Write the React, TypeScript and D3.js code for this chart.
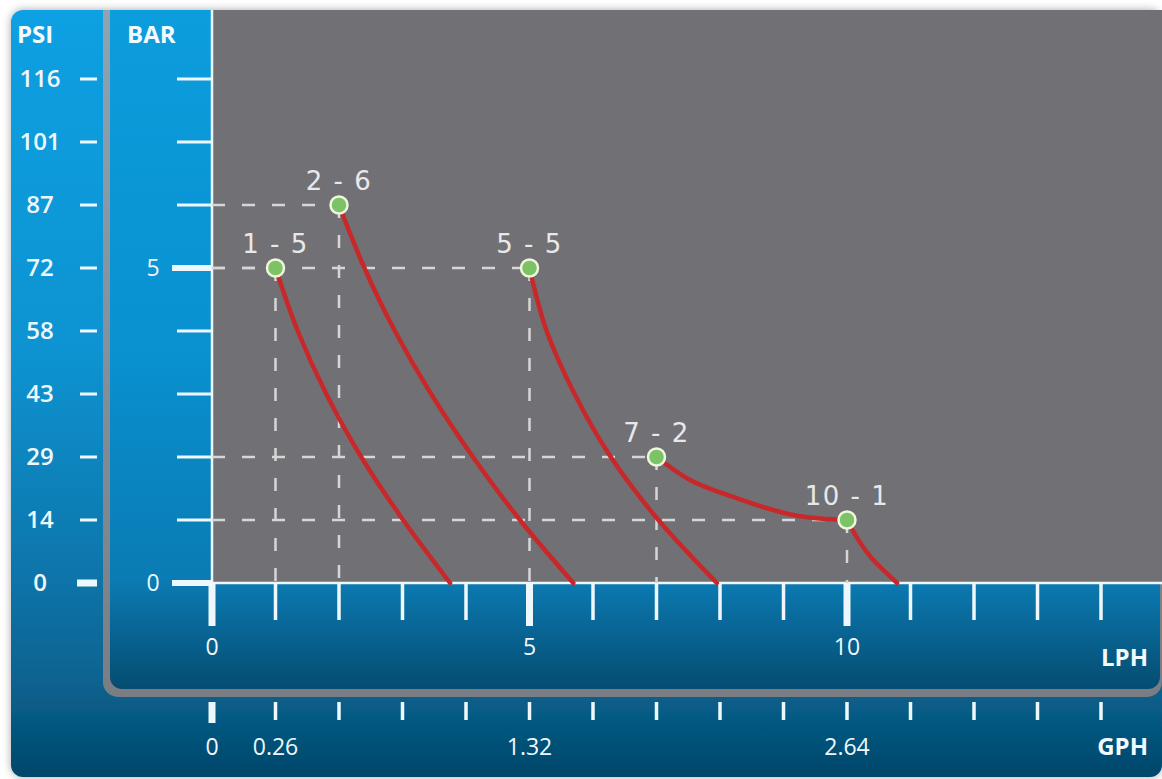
import React from 'react';
import * as d3 from 'd3';

// ---------- data ----------
const lphTicks = [0, 1, 2, 3, 4, 5, 6, 7, 8, 9, 10, 11, 12, 13, 14];
const lphMajor = [0, 5, 10];
const gphLabels = [
  { lph: 0, text: '0' },
  { lph: 1, text: '0.26' },
  { lph: 5, text: '1.32' },
  { lph: 10, text: '2.64' },
];
const barTicks = [0, 1, 2, 3, 4, 5, 6, 7, 8];
const barMajor = [0, 5];
const psiLabels = ['0', '14', '29', '43', '58', '72', '87', '101', '116'];

const operatingPoints = [
  { lph: 1, bar: 5, label: '1 - 5' },
  { lph: 2, bar: 6, label: '2 - 6' },
  { lph: 5, bar: 5, label: '5 - 5' },
  { lph: 7, bar: 2, label: '7 - 2' },
  { lph: 10, bar: 1, label: '10 - 1' },
];

// pump curves: [lph, bar]
const curve1: [number, number][] = [[1, 5], [1.35, 4], [1.8, 3], [2.35, 2], [3.01, 1], [3.75, 0]];
const curve2: [number, number][] = [[2, 6], [2.4, 5], [2.88, 4], [3.45, 3], [4.11, 2], [4.85, 1], [5.69, 0]];
const curve3: [number, number][] = [[5, 5], [5.27, 4], [5.71, 3], [6.28, 2], [7.03, 1], [7.95, 0]];
const curve4a: [number, number][] = [[7, 2], [7.5, 1.65], [8.2, 1.37], [9.26, 1.06], [10, 1]];
const curve4b: [number, number][] = [[10, 1], [10.4, 0.38], [10.79, 0]];
const steepCurves = [curve1, curve2, curve3, curve4b];
const flatCurves = [curve4a];

export default function App() {
  const W = 1162;
  const H = 779;
  const plotLeft = 212;
  const plotTop = 10;
  const plotRight = 1162;

  const x = d3.scaleLinear().domain([0, 14]).range([212, 1101]);
  const y = d3.scaleLinear().domain([0, 8]).range([583, 79]);
  const axisY = y(0);

  const lineY = d3
    .line<[number, number]>()
    .x((d) => x(d[0]))
    .y((d) => y(d[1]))
    .curve(d3.curveMonotoneY);
  const lineX = d3
    .line<[number, number]>()
    .x((d) => x(d[0]))
    .y((d) => y(d[1]))
    .curve(d3.curveMonotoneX);

  const tickColor = '#eef8fc';
  const font = '"Open Sans", "DejaVu Sans", sans-serif';

  return (
    <svg
      width={W}
      height={H}
      style={{ position: 'absolute', left: 0, top: 0, display: 'block' }}
    >
      <defs>
        <linearGradient id="outerGrad" gradientUnits="userSpaceOnUse" x1="0" y1="10" x2="0" y2="777">
          <stop offset="0" stopColor="#0ea0e2" />
          <stop offset="0.45" stopColor="#0993d1" />
          <stop offset="0.72" stopColor="#0a77ad" />
          <stop offset="0.88" stopColor="#08628f" />
          <stop offset="1" stopColor="#04476a" />
        </linearGradient>
        <linearGradient id="innerGrad" gradientUnits="userSpaceOnUse" x1="0" y1="10" x2="0" y2="689">
          <stop offset="0" stopColor="#0c9ddd" />
          <stop offset="0.5" stopColor="#0991d0" />
          <stop offset="0.84" stopColor="#0a7bb3" />
          <stop offset="0.87" stopColor="#0a72a6" />
          <stop offset="1" stopColor="#054c71" />
        </linearGradient>
        <linearGradient id="sepGrad" gradientUnits="userSpaceOnUse" x1="0" y1="10" x2="0" y2="697">
          <stop offset="0" stopColor="#8fa3b2" />
          <stop offset="1" stopColor="#7a7d83" />
        </linearGradient>
        <filter id="shadow" x="-5%" y="-5%" width="110%" height="110%">
          <feDropShadow dx="0" dy="0" stdDeviation="4" floodColor="#000" floodOpacity="0.35" />
        </filter>
      </defs>

      <rect x={0} y={0} width={W} height={H} fill="#ffffff" />

      {/* outer panel */}
      <rect x={11} y={10} width={1151} height={767} rx={12} fill="url(#outerGrad)" filter="url(#shadow)" />

      {/* inner panel with grey border */}
      <rect x={103} y={10} width={1059} height={687} rx={15} fill="url(#sepGrad)" />
      <rect x={103} y={10} width={30} height={30} fill="url(#sepGrad)" />
      <rect x={110} y={10} width={1050} height={679} rx={12} fill="url(#innerGrad)" />
      <rect x={110} y={10} width={1050} height={30} fill="url(#innerGrad)" />

      {/* plot area */}
      <rect x={plotLeft} y={plotTop} width={plotRight - plotLeft} height={axisY - plotTop} fill="#717075" />

      {/* axis lines */}
      <line x1={plotLeft} x2={plotLeft} y1={plotTop} y2={axisY} stroke={tickColor} strokeWidth={2.5} />
      <line x1={plotLeft} x2={plotRight} y1={axisY} y2={axisY} stroke={tickColor} strokeWidth={2.5} />

      {/* axis titles */}
      <text x={17} y={43} fill="#f2fafd" fontFamily={font} fontWeight={700} fontSize={24}>PSI</text>
      <text x={127} y={43} fill="#f2fafd" fontFamily={font} fontWeight={700} fontSize={24}>BAR</text>
      <text x={1148} y={666} textAnchor="end" fill="#f2fafd" fontFamily={font} fontWeight={700} fontSize={24}>LPH</text>
      <text x={1148} y={755} textAnchor="end" fill="#f2fafd" fontFamily={font} fontWeight={700} fontSize={24}>GPH</text>

      {/* PSI ticks + labels */}
      {barTicks.map((b, i) => {
        const major = b === 0;
        return (
          <g key={'psi' + b}>
            <line
              x1={major ? 77 : 80}
              x2={97}
              y1={y(b)}
              y2={y(b)}
              stroke={tickColor}
              strokeWidth={major ? 7 : 3}
            />
            <text
              x={40}
              y={y(b) + 8}
              textAnchor="middle"
              fill="#eef8fc"
              fontFamily={font}
              fontWeight={600}
              fontSize={24}
            >
              {psiLabels[i]}
            </text>
          </g>
        );
      })}

      {/* BAR ticks */}
      {barTicks.map((b) => {
        const major = barMajor.includes(b);
        return (
          <line
            key={'bar' + b}
            x1={major ? 172 : 177}
            x2={plotLeft}
            y1={y(b)}
            y2={y(b)}
            stroke={tickColor}
            strokeWidth={major ? 6 : 3}
          />
        );
      })}
      {barMajor.map((b) => (
        <text
          key={'barl' + b}
          x={153}
          y={y(b) + 8}
          textAnchor="middle"
          fill="#eef8fc"
          fontFamily={font}
          fontWeight={500}
          fontSize={23}
        >
          {b}
        </text>
      ))}

      {/* LPH ticks */}
      {lphTicks.map((v) => {
        const major = lphMajor.includes(v);
        return (
          <line
            key={'lph' + v}
            x1={x(v)}
            x2={x(v)}
            y1={axisY}
            y2={major ? 626 : 620}
            stroke={tickColor}
            strokeWidth={major ? 7 : 3.5}
          />
        );
      })}
      {lphMajor.map((v) => (
        <text
          key={'lphl' + v}
          x={x(v)}
          y={655}
          textAnchor="middle"
          fill="#eef8fc"
          fontFamily={font}
          fontWeight={500}
          fontSize={23}
        >
          {v}
        </text>
      ))}

      {/* GPH ticks */}
      {lphTicks.map((v) => (
        <line
          key={'gph' + v}
          x1={x(v)}
          x2={x(v)}
          y1={702}
          y2={v === 0 ? 723 : 720}
          stroke={tickColor}
          strokeWidth={v === 0 ? 7 : 3.5}
        />
      ))}
      {gphLabels.map((g) => (
        <text
          key={'gphl' + g.text}
          x={x(g.lph)}
          y={755}
          textAnchor="middle"
          fill="#eef8fc"
          fontFamily={font}
          fontWeight={500}
          fontSize={23}
        >
          {g.text}
        </text>
      ))}

      {/* dashed guide lines */}
      {operatingPoints.map((p) => (
        <g key={'guide' + p.label}>
          <line
            x1={x(0)}
            x2={x(p.lph)}
            y1={y(p.bar)}
            y2={y(p.bar)}
            stroke="#d6d6d8"
            strokeWidth={2.5}
            strokeDasharray="13 17"
          />
          <line
            x1={x(p.lph)}
            x2={x(p.lph)}
            y1={y(p.bar)}
            y2={axisY}
            stroke="#d6d6d8"
            strokeWidth={2.5}
            strokeDasharray="13 17"
          />
        </g>
      ))}

      {/* pump curves */}
      {steepCurves.map((c, i) => (
        <path key={'curveS' + i} d={lineY(c) || ''} fill="none" stroke="#c9282b" strokeWidth={4.5} strokeLinecap="round" />
      ))}
      {flatCurves.map((c, i) => (
        <path key={'curveF' + i} d={lineX(c) || ''} fill="none" stroke="#c9282b" strokeWidth={4.5} strokeLinecap="round" />
      ))}

      {/* points + labels */}
      {operatingPoints.map((p) => (
        <g key={'pt' + p.label}>
          <circle cx={x(p.lph)} cy={y(p.bar)} r={8.5} fill="#7cc266" stroke="#eef6dc" strokeWidth={2.5} />
          <text
            x={x(p.lph)}
            y={y(p.bar) - 15}
            textAnchor="middle"
            fill="#e8e8ea"
            fontFamily='"DejaVu Sans", Verdana, sans-serif'
            fontSize={26}
            letterSpacing={1.5}
          >
            {p.label}
          </text>
        </g>
      ))}
    </svg>
  );
}
